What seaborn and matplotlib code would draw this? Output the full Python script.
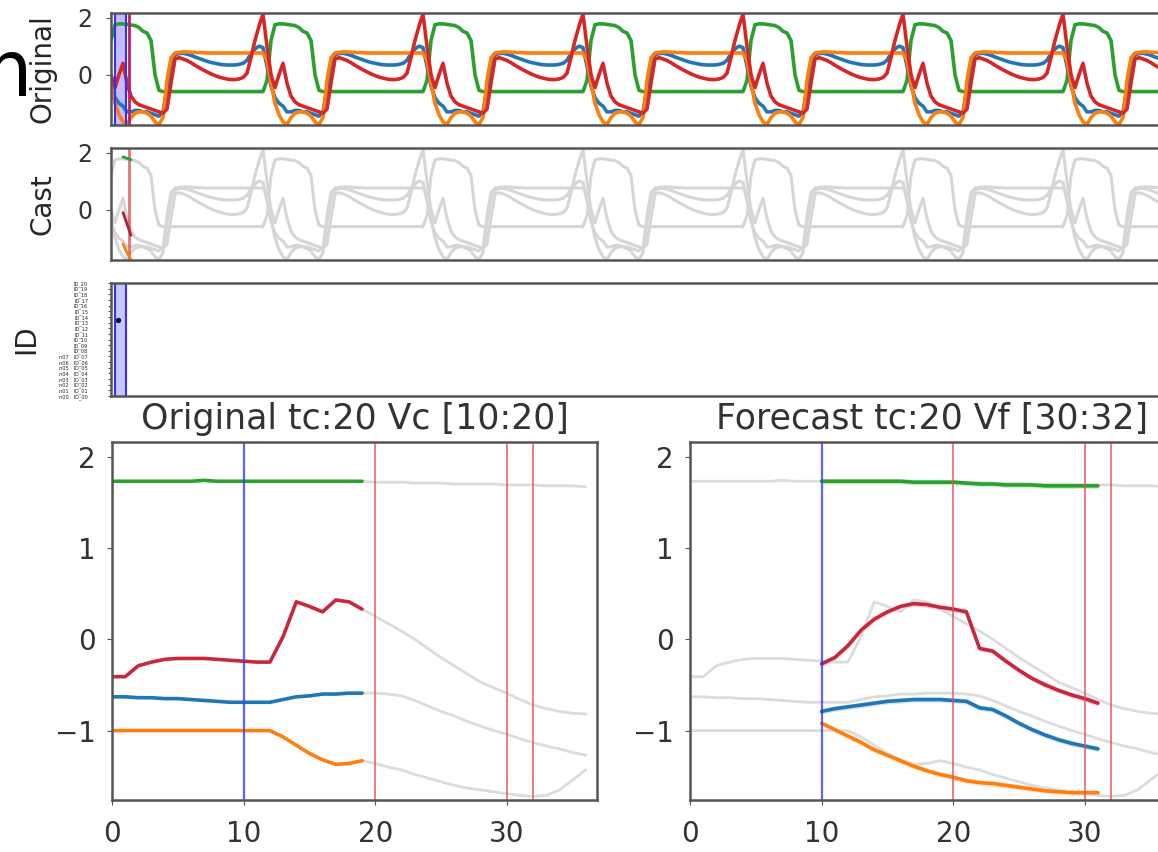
import numpy as np
import pandas as pd
import matplotlib
matplotlib.use('Agg')
import matplotlib.pyplot as plt
import seaborn as sns

# one cycle (40 samples) of each channel, starting at the red spike
cycle_red = [2.12, 1.0, 0.0, -0.45, 0.0, 0.4, -0.3, -0.75, -0.95, -1.05, -1.1, -1.15, -1.2, -1.25,
             -1.3, -1.35, -1.2, -0.3, 0.55, 0.6, 0.55, 0.5, 0.42, 0.33, 0.25, 0.17, 0.1, 0.03,
             -0.03, -0.08, -0.12, -0.15, -0.17, -0.17, -0.15, -0.1, 0.05, 0.6, 1.2, 1.7]
cycle_orange = [0.76, 0.5, -0.3, -1.0, -1.4, -1.65, -1.74, -1.5, -1.35, -1.3, -1.3, -1.35, -1.45,
                -1.65, -1.74, -1.5, -0.2, 0.6, 0.76, 0.78, 0.8, 0.8, 0.79, 0.78, 0.77, 0.77, 0.76,
                0.76, 0.76, 0.76, 0.76, 0.76, 0.76, 0.76, 0.76, 0.76, 0.76, 0.76, 0.76, 0.76]
cycle_blue = [0.95, 0.3, -0.4, -0.8, -1.0, -1.1, -1.3, -1.3, -1.25, -1.25, -1.3, -1.3, -1.35, -1.4,
              -1.45, -1.3, -0.5, 0.4, 0.7, 0.74, 0.75, 0.72, 0.68, 0.62, 0.57, 0.52, 0.47, 0.43,
              0.4, 0.37, 0.35, 0.34, 0.34, 0.34, 0.36, 0.4, 0.5, 0.75, 0.9, 1.0]
cycle_green = [-0.59, -0.2, 1.2, 1.75, 1.78, 1.78, 1.76, 1.74, 1.72, 1.65, 1.52, 1.46, 1.2, 0.0,
               -0.55, -0.59, -0.59, -0.59, -0.59, -0.59, -0.59, -0.59, -0.59, -0.59, -0.59, -0.59,
               -0.59, -0.59, -0.59, -0.59, -0.59, -0.59, -0.59, -0.59, -0.59, -0.59, -0.59, -0.59,
               -0.59, -0.59]
n_samples = 280
phase = 2

# window around tc=20 (t = 0..36)
win_red = [-0.41, -0.41, -0.29, -0.25, -0.22, -0.21, -0.21, -0.21, -0.22, -0.23, -0.24, -0.25,
           -0.25, 0.03, 0.41, 0.36, 0.3, 0.43, 0.41, 0.33, 0.25, 0.17, 0.09, 0.0, -0.1, -0.2,
           -0.29, -0.38, -0.47, -0.53, -0.59, -0.66, -0.72, -0.76, -0.79, -0.81, -0.82]
win_blue = [-0.63, -0.63, -0.64, -0.64, -0.65, -0.65, -0.66, -0.67, -0.68, -0.69, -0.69, -0.69,
            -0.69, -0.66, -0.63, -0.62, -0.6, -0.6, -0.59, -0.59, -0.59, -0.6, -0.62, -0.67,
            -0.73, -0.79, -0.84, -0.9, -0.95, -1.0, -1.04, -1.09, -1.13, -1.17, -1.2, -1.24,
            -1.27]
win_orange = [-1.0, -1.0, -1.0, -1.0, -1.0, -1.0, -1.0, -1.0, -1.0, -1.0, -1.0, -1.0, -1.0,
              -1.07, -1.16, -1.25, -1.32, -1.37, -1.36, -1.33, -1.36, -1.4, -1.43, -1.48, -1.52,
              -1.56, -1.6, -1.63, -1.65, -1.67, -1.69, -1.71, -1.72, -1.71, -1.65, -1.54, -1.43]
win_green = [1.73, 1.73, 1.73, 1.73, 1.73, 1.73, 1.73, 1.74, 1.73, 1.73, 1.73, 1.73, 1.73, 1.73,
             1.73, 1.73, 1.73, 1.73, 1.73, 1.73, 1.72, 1.72, 1.72, 1.71, 1.71, 1.71, 1.7, 1.7,
             1.7, 1.7, 1.69, 1.69, 1.69, 1.68, 1.68, 1.68, 1.67]
tc_orig = 19          # last sample drawn in colour on the "Original" panel

# forecast from t=10 to t=31
fc_red = [-0.27, -0.2, -0.07, 0.1, 0.22, 0.3, 0.36, 0.39, 0.38, 0.35, 0.33, 0.3, -0.1, -0.13,
          -0.24, -0.34, -0.43, -0.5, -0.56, -0.61, -0.65, -0.7]
fc_blue = [-0.79, -0.76, -0.74, -0.72, -0.7, -0.68, -0.67, -0.66, -0.66, -0.66, -0.67, -0.68,
           -0.75, -0.77, -0.84, -0.92, -0.99, -1.05, -1.1, -1.14, -1.17, -1.2]
fc_orange = [-0.92, -0.99, -1.06, -1.13, -1.21, -1.27, -1.33, -1.39, -1.44, -1.48, -1.51, -1.55,
             -1.57, -1.58, -1.6, -1.62, -1.64, -1.66, -1.67, -1.68, -1.68, -1.68]
fc_green = [1.73, 1.73, 1.73, 1.73, 1.73, 1.73, 1.73, 1.72, 1.72, 1.72, 1.72, 1.71, 1.7, 1.7,
            1.69, 1.69, 1.69, 1.68, 1.68, 1.68, 1.68, 1.68]
fc_start = 10

# short cast segment on the "Cast" strip
cast_t = [3, 4, 5]
cast_red = [-0.1, -0.5, -0.9]
cast_orange = [-1.2, -1.5, -1.75]
cast_green = [1.85, 1.8, 1.75]

# ID strip: tick labels and the one marked sample
id_ticks = list(range(0, 21))
id_labels = [('n%02d   ' % i if i < 8 else '') + 'ID_%02d' % i for i in id_ticks]
id_point = (1.8, 13.4)

channels = ['green', 'blue', 'orange', 'red']
palette = {'green': '#2ca02c', 'blue': '#1f77b4', 'orange': '#ff7f0e', 'red': '#d62728'}
ylim = (-1.76, 2.16)

sns.set_style('ticks')
plt.rcParams['font.family'] = ['DejaVu Sans']
plt.rcParams['axes.edgecolor'] = '#555555'
plt.rcParams['axes.linewidth'] = 1.8
plt.rcParams['text.color'] = '#333333'
plt.rcParams['xtick.color'] = '#555555'
plt.rcParams['ytick.color'] = '#555555'
plt.rcParams['xtick.labelcolor'] = '#333333'
plt.rcParams['ytick.labelcolor'] = '#333333'

W, H = 1158, 852
fig = plt.figure(figsize=(W / 100, H / 100), dpi=100)


def px_axes(left, top, right, bottom):
    return fig.add_axes([left / W, 1 - bottom / H, (right - left) / W, (bottom - top) / H])


# long format data for the strips
cycles = {'red': cycle_red, 'orange': cycle_orange, 'blue': cycle_blue, 'green': cycle_green}
t = np.arange(n_samples)
rows = []
for ch in channels:
    vals = np.tile(cycles[ch], n_samples // 40 + 2)[phase:phase + n_samples]
    rows.append(pd.DataFrame({'t': t, 'value': vals, 'channel': ch}))
strip_df = pd.concat(rows, ignore_index=True)

# --- Original strip
ax0 = px_axes(111, 13, 1227, 125)
sns.lineplot(data=strip_df, x='t', y='value', hue='channel', hue_order=channels,
             palette=palette, lw=2.6, legend=False, ax=ax0)
ax0.axvspan(1, 3.75, color='#9f8fff', alpha=0.6, lw=0)
ax0.axvline(1, color='#3030ff', lw=1.5)
ax0.axvline(3.75, color='#3030ff', lw=1.5)
ax0.axvline(4.4, color='#c02060', lw=2)
ax0.set_xlim(0, n_samples - 1)
ax0.set_ylim(ylim)
ax0.set_yticks([0, 2])
ax0.set_xticks([])
ax0.set_xlabel('')
ax0.set_ylabel('Original', fontsize=20)
ax0.yaxis.set_label_coords((57 - 111) / 1116, 0.5)
ax0.tick_params(axis='y', labelsize=17, pad=10)

# --- Cast strip
ax1 = px_axes(111, 148, 1227, 260)
sns.lineplot(data=strip_df, x='t', y='value', units='channel', estimator=None,
             color='#d6d6d6', lw=2.2, ax=ax1)
ax1.axvline(4.6, color='#e05050', lw=2, alpha=0.8)
sns.lineplot(x=cast_t, y=cast_green, color=palette['green'], lw=2, ax=ax1)
sns.lineplot(x=cast_t, y=cast_red, color='#b0203a', lw=2, ax=ax1)
sns.lineplot(x=cast_t, y=cast_orange, color=palette['orange'], lw=2, ax=ax1)
ax1.set_xlim(0, n_samples - 1)
ax1.set_ylim(ylim)
ax1.set_yticks([0, 2])
ax1.set_xticks([])
ax1.set_xlabel('')
ax1.set_ylabel('Cast', fontsize=20)
ax1.yaxis.set_label_coords((57 - 111) / 1116, 0.5)
ax1.tick_params(axis='y', labelsize=17, pad=10)

# --- ID strip
ax2 = px_axes(111, 283, 1227, 396)
ax2.axvspan(1, 3.75, color='#b0b0ff', alpha=0.7, lw=0)
ax2.axvline(1, color='#3030ff', lw=1.5)
ax2.axvline(3.75, color='#3030ff', lw=1.5)
sns.scatterplot(x=[id_point[0]], y=[id_point[1]], color='#101060', s=20, ax=ax2)
ax2.set_xlim(0, n_samples - 1)
ax2.set_ylim(0, 20)
ax2.set_yticks(id_ticks)
ax2.set_yticklabels(id_labels, fontsize=3.6, color='#222222')
ax2.tick_params(axis='y', length=2.5, pad=14)
ax2.set_xticks([])
ax2.set_ylabel('ID', fontsize=20)
ax2.yaxis.set_label_coords((40 - 111) / 1116, 0.5)

# --- bottom windows
win_t = list(range(len(win_red)))
win = {'red': win_red, 'blue': win_blue, 'orange': win_orange, 'green': win_green}
fc = {'red': fc_red, 'blue': fc_blue, 'orange': fc_orange, 'green': fc_green}
fc_t = list(range(fc_start, fc_start + len(fc_red)))
bottom_pal = dict(palette, red='#c8283e')


def decorate(ax, title):
    ax.axvline(10, color='#3a3aff', lw=1.6, alpha=0.8)
    for x in (20, 30, 32):
        ax.axvline(x, color='#e05060', lw=1.3, alpha=0.8)
    ax.set_xlim(0, 36.85)
    ax.set_ylim(ylim)
    ax.set_xticks([0, 10, 20, 30])
    ax.set_yticks([-1, 0, 1, 2])
    ax.tick_params(labelsize=20)
    ax.tick_params(axis='x', pad=11)
    ax.tick_params(axis='y', pad=8)
    ax.set_title(title, fontsize=25, pad=9)
    ax.set_xlabel('')
    ax.set_ylabel('')


ax3 = px_axes(112, 442, 597, 800)
for ch in channels:
    sns.lineplot(x=win_t[tc_orig:], y=win[ch][tc_orig:], color='#dcdcdc', lw=2, ax=ax3)
for ch in channels:
    sns.lineplot(x=win_t[:tc_orig + 1], y=win[ch][:tc_orig + 1], color=bottom_pal[ch],
                 lw=2.6, ax=ax3)
decorate(ax3, 'Original tc:20 Vc [10:20]')

ax4 = px_axes(690, 442, 1175, 800)
for ch in channels:
    sns.lineplot(x=win_t, y=win[ch], color='#dcdcdc', lw=2, ax=ax4)
for ch in channels:
    lo = np.array(fc[ch]) - 0.03
    hi = np.array(fc[ch]) + 0.03
    ax4.fill_between(fc_t, lo, hi, color=bottom_pal[ch], alpha=0.2, lw=0)
    sns.lineplot(x=fc_t, y=fc[ch], color=bottom_pal[ch], lw=2.6, ax=ax4)
decorate(ax4, 'Forecast tc:20 Vf [30:32]')

# overlay letter at the left edge (cut by the frame, as in the source)
fig.text(33 / W, 1 - 96 / H, 'm', fontsize=56, color='black', ha='right', va='baseline')

fig.savefig('out.png', dpi=100)
plt.close('all')
